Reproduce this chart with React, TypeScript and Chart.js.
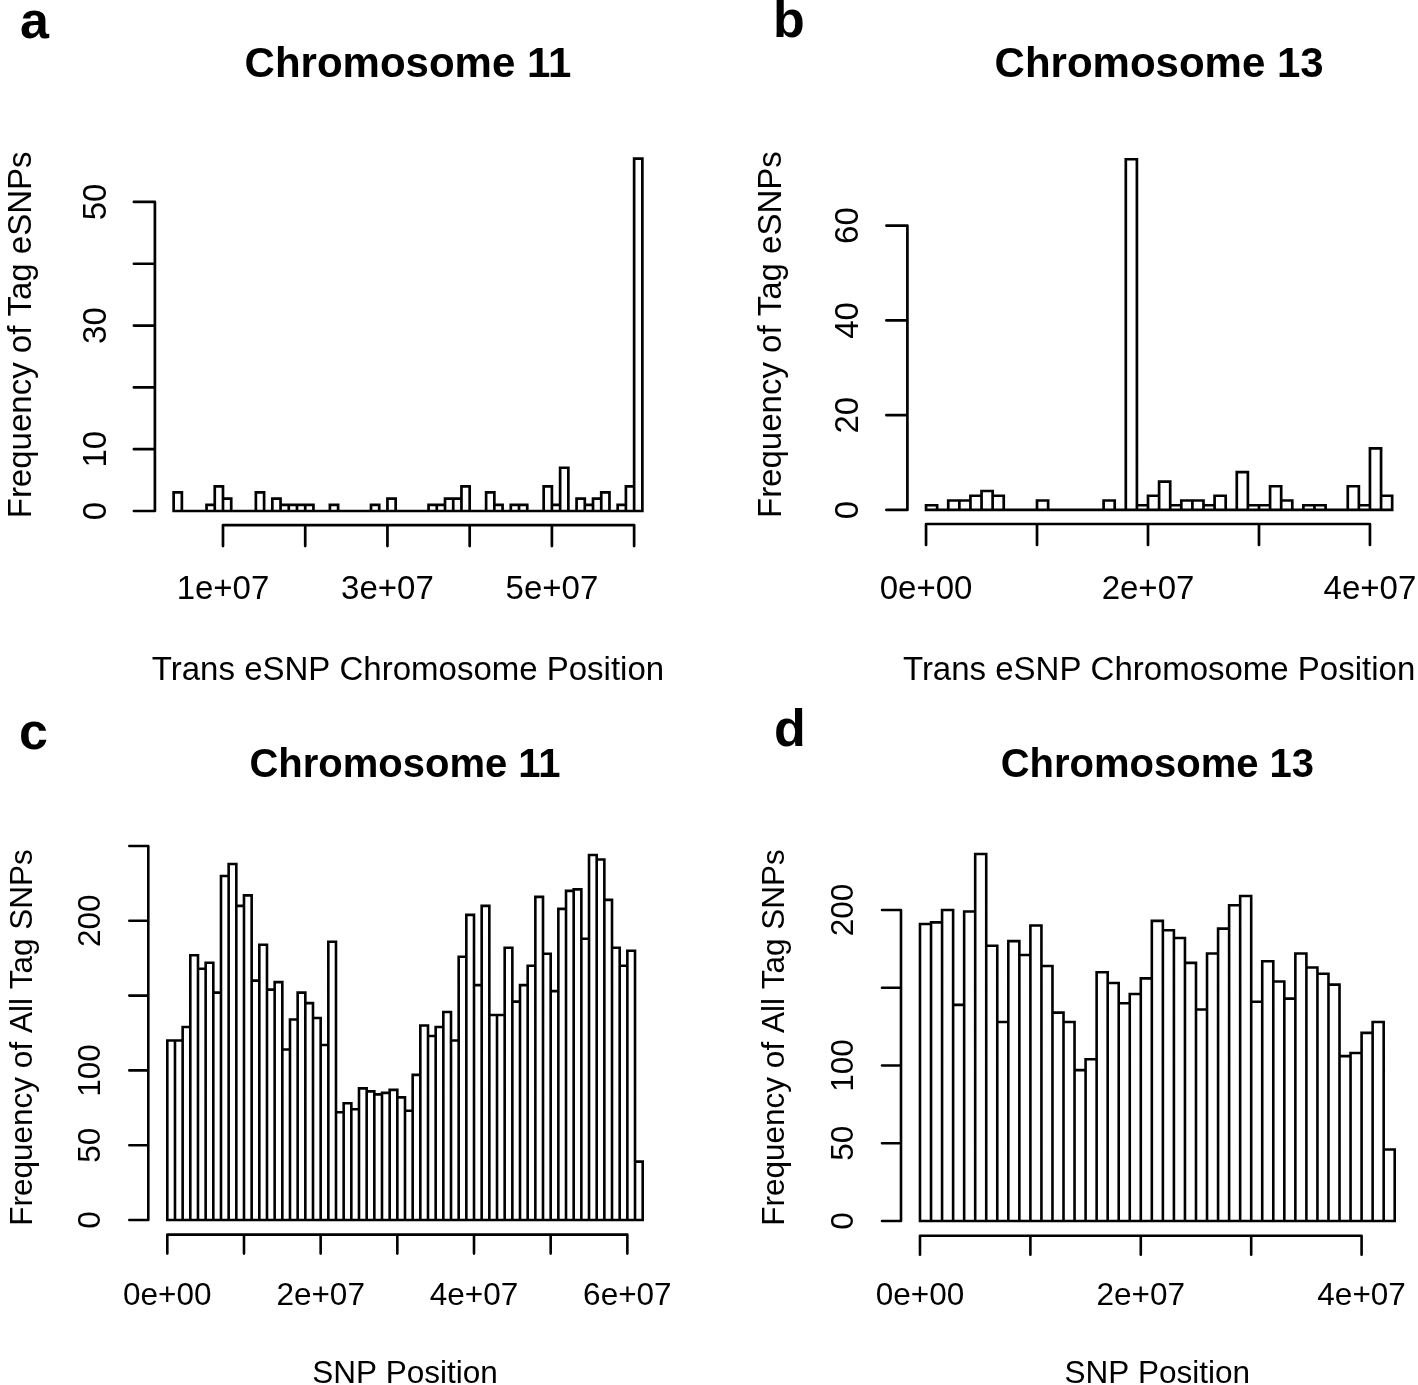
import React, { useEffect, useRef } from "react";
import { Chart, registerables } from "chart.js";

Chart.register(...registerables);

const FONT = '"Liberation Sans", Arial, Helvetica, sans-serif';

// ---------------- Data (histogram counts, 1e6 bp bins) ----------------
const binWidth = 1e6;

const chr11TransStart = 4e6;
const chr11TransCounts = [
  3, 0, 0, 0, 1, 4, 2, 0, 0, 0, 3, 0, 2, 1, 1, 1, 1, 0, 0, 1,
  0, 0, 0, 0, 1, 0, 2, 0, 0, 0, 0, 1, 1, 2, 2, 4, 0, 0, 3, 1,
  0, 1, 1, 0, 0, 4, 1, 7, 0, 2, 1, 2, 3, 0, 1, 4, 57,
];

const chr13TransStart = 0;
const chr13TransCounts = [
  1, 0, 2, 2, 3, 4, 3, 0, 0, 0, 2, 0, 0, 0, 0, 0, 2, 0, 74, 1,
  3, 6, 1, 2, 2, 1, 3, 0, 8, 1, 1, 5, 2, 0, 1, 1, 0, 0, 5, 1,
  13, 3,
];

const chr11AllStart = 0;
const chr11AllCounts = [
  120, 120, 129, 177, 168, 172, 152, 230, 238, 210,
  217, 160, 184, 154, 159, 114, 134, 152, 145, 135,
  117, 186, 72, 78, 74, 88, 86, 84, 85, 87,
  82, 73, 97, 130, 123, 129, 139, 120, 176, 204,
  157, 210, 137, 137, 182, 146, 157, 170, 216, 178,
  153, 208, 220, 221, 188, 244, 241, 214, 182, 170,
  180, 39,
];

const chr13AllStart = 0;
const chr13AllCounts = [
  191, 192, 200, 139, 199, 236, 177, 128, 180, 171,
  190, 164, 134, 128, 97, 104, 160, 153, 140, 146,
  156, 193, 187, 182, 166, 136, 172, 188, 203, 209,
  141, 167, 154, 143, 172, 163, 159, 152, 106, 108,
  121, 128, 46,
];

// ---------------- Text ----------------
const panelLetters = ["a", "b", "c", "d"];
const panelTitles = ["Chromosome 11", "Chromosome 13", "Chromosome 11", "Chromosome 13"];
const yAxisTitles = [
  "Frequency of Tag eSNPs",
  "Frequency of Tag eSNPs",
  "Frequency of All Tag SNPs",
  "Frequency of All Tag SNPs",
];
const xAxisTitles = [
  "Trans eSNP Chromosome Position",
  "Trans eSNP Chromosome Position",
  "SNP Position",
  "SNP Position",
];

// ---------------- Ticks ----------------
const xTicksA = [1e7, 2e7, 3e7, 4e7, 5e7, 6e7];
const xTickLabelsA = ["1e+07", "", "3e+07", "", "5e+07", ""];
const yTicksA = [0, 10, 20, 30, 40, 50];
const yTickLabelsA = ["0", "10", "", "30", "", "50"];

const xTicksB = [0, 1e7, 2e7, 3e7, 4e7];
const xTickLabelsB = ["0e+00", "", "2e+07", "", "4e+07"];
const yTicksB = [0, 20, 40, 60];
const yTickLabelsB = ["0", "20", "40", "60"];

const xTicksC = [0, 1e7, 2e7, 3e7, 4e7, 5e7, 6e7];
const xTickLabelsC = ["0e+00", "", "2e+07", "", "4e+07", "", "6e+07"];
const yTicksC = [0, 50, 100, 150, 200, 250];
const yTickLabelsC = ["0", "50", "100", "", "200", ""];

const xTicksD = [0, 1e7, 2e7, 3e7, 4e7];
const xTickLabelsD = ["0e+00", "", "2e+07", "", "4e+07"];
const yTicksD = [0, 50, 100, 150, 200];
const yTickLabelsD = ["0", "50", "100", "", "200"];

// ---------------- Layout (absolute page pixels) ----------------
type Box = { left: number; top: number; width: number; height: number };
type Layout = {
  canvas: Box;
  plot: { left: number; top: number; right: number; bottom: number };
  letterX: number;
  letterY: number;
  titleY: number;
  xTickLabelY: number;
  xTitleY: number;
  yTickLabelX: number;
  yTitleX: number;
  font: number;
  titleFont: number;
  letterFont: number;
  lw: number;
  tickLen: number;
};

const layoutA: Layout = {
  canvas: { left: 0, top: 0, width: 709, height: 692 },
  plot: { left: 154.9, top: 144.6, right: 661.1, bottom: 525.1 },
  letterX: 20, letterY: 38, titleY: 77, xTickLabelY: 599, xTitleY: 680,
  yTickLabelX: 106, yTitleX: 31, font: 33, titleFont: 42, letterFont: 52, lw: 2.7, tickLen: 21,
};
const layoutB: Layout = {
  canvas: { left: 709, top: 0, width: 709, height: 692 },
  plot: { left: 907.4, top: 145.2, right: 1410.8, bottom: 524.0 },
  letterX: 773, letterY: 37, titleY: 77, xTickLabelY: 599, xTitleY: 680,
  yTickLabelX: 858, yTitleX: 781, font: 33, titleFont: 42, letterFont: 52, lw: 2.7, tickLen: 21,
};
const layoutC: Layout = {
  canvas: { left: 0, top: 692, width: 709, height: 693 },
  plot: { left: 148.3, top: 840.4, right: 661.7, bottom: 1234.6 },
  letterX: 19, letterY: 749, titleY: 777, xTickLabelY: 1305, xTitleY: 1383,
  yTickLabelX: 100, yTitleX: 31.5, font: 31.5, titleFont: 40, letterFont: 52, lw: 2.6, tickLen: 19,
};
const layoutD: Layout = {
  canvas: { left: 709, top: 692, width: 709, height: 693 },
  plot: { left: 901, top: 839.3, right: 1413.7, bottom: 1235.7 },
  letterX: 774, letterY: 746, titleY: 777, xTickLabelY: 1305, xTitleY: 1383,
  yTickLabelX: 853, yTitleX: 784, font: 31.5, titleFont: 40, letterFont: 52, lw: 2.6, tickLen: 19,
};

type PanelSpec = {
  idx: number;
  start: number;
  counts: number[];
  xTicks: number[];
  xTickLabels: string[];
  yTicks: number[];
  yTickLabels: string[];
  layout: Layout;
};

const panels: PanelSpec[] = [
  { idx: 0, start: chr11TransStart, counts: chr11TransCounts, xTicks: xTicksA, xTickLabels: xTickLabelsA, yTicks: yTicksA, yTickLabels: yTickLabelsA, layout: layoutA },
  { idx: 1, start: chr13TransStart, counts: chr13TransCounts, xTicks: xTicksB, xTickLabels: xTickLabelsB, yTicks: yTicksB, yTickLabels: yTickLabelsB, layout: layoutB },
  { idx: 2, start: chr11AllStart, counts: chr11AllCounts, xTicks: xTicksC, xTickLabels: xTickLabelsC, yTicks: yTicksC, yTickLabels: yTickLabelsC, layout: layoutC },
  { idx: 3, start: chr13AllStart, counts: chr13AllCounts, xTicks: xTicksD, xTickLabels: xTickLabelsD, yTicks: yTicksD, yTickLabels: yTickLabelsD, layout: layoutD },
];

// R-style histogram outlines and axes
const rStylePlugin = {
  id: "rStyle",
  afterDatasetsDraw(chart: any, _args: any, opts: any) {
    const spec: PanelSpec = opts.spec;
    const L = spec.layout;
    const ox = L.canvas.left;
    const oy = L.canvas.top;
    const ctx: CanvasRenderingContext2D = chart.ctx;
    const xs = chart.scales.x;
    const ys = chart.scales.y;
    const area = chart.chartArea;

    ctx.save();
    ctx.strokeStyle = "#000";
    ctx.fillStyle = "#000";
    ctx.lineWidth = L.lw;
    ctx.lineJoin = "miter";
    ctx.lineCap = "square";

    // bar outlines; zero-height bins become baseline segments
    const meta = chart.getDatasetMeta(0);
    ctx.beginPath();
    meta.data.forEach((bar: any) => {
      const p = bar.getProps(["x", "y", "base", "width"], true);
      const l = p.x - p.width / 2;
      const r = p.x + p.width / 2;
      const top = Math.min(p.y, p.base);
      const bottom = Math.max(p.y, p.base);
      if (bottom - top < 0.5) {
        ctx.moveTo(l, bottom);
        ctx.lineTo(r, bottom);
      } else {
        ctx.moveTo(l, bottom);
        ctx.lineTo(l, top);
        ctx.lineTo(r, top);
        ctx.lineTo(r, bottom);
        ctx.lineTo(l, bottom);
      }
    });
    ctx.stroke();

    ctx.lineCap = "round";
    // x axis
    const xb = area.bottom;
    const x0 = xs.getPixelForValue(spec.xTicks[0]);
    const x1 = xs.getPixelForValue(spec.xTicks[spec.xTicks.length - 1]);
    ctx.beginPath();
    ctx.moveTo(x0, xb);
    ctx.lineTo(x1, xb);
    spec.xTicks.forEach((v) => {
      const px = xs.getPixelForValue(v);
      ctx.moveTo(px, xb);
      ctx.lineTo(px, xb + L.tickLen);
    });
    ctx.stroke();

    // y axis
    const yl = area.left;
    const y0 = ys.getPixelForValue(spec.yTicks[0]);
    const y1 = ys.getPixelForValue(spec.yTicks[spec.yTicks.length - 1]);
    ctx.beginPath();
    ctx.moveTo(yl, y0);
    ctx.lineTo(yl, y1);
    spec.yTicks.forEach((v) => {
      const py = ys.getPixelForValue(v);
      ctx.moveTo(yl, py);
      ctx.lineTo(yl - L.tickLen, py);
    });
    ctx.stroke();

    // x tick labels
    ctx.font = `${L.font}px ${FONT}`;
    ctx.textAlign = "center";
    ctx.textBaseline = "alphabetic";
    spec.xTicks.forEach((v, i) => {
      const lab = spec.xTickLabels[i];
      if (lab) ctx.fillText(lab, xs.getPixelForValue(v), L.xTickLabelY - oy);
    });

    // y tick labels (rotated, parallel to axis)
    spec.yTicks.forEach((v, i) => {
      const lab = spec.yTickLabels[i];
      if (!lab) return;
      ctx.save();
      ctx.translate(L.yTickLabelX - ox, ys.getPixelForValue(v));
      ctx.rotate(-Math.PI / 2);
      ctx.fillText(lab, 0, 0);
      ctx.restore();
    });

    const cx = (area.left + area.right) / 2;
    const cy = (area.top + area.bottom) / 2;

    // x axis title
    ctx.fillText(xAxisTitles[spec.idx], cx, L.xTitleY - oy);

    // y axis title
    ctx.save();
    ctx.translate(L.yTitleX - ox, cy);
    ctx.rotate(-Math.PI / 2);
    ctx.fillText(yAxisTitles[spec.idx], 0, 0);
    ctx.restore();

    // main title
    ctx.font = `bold ${L.titleFont}px ${FONT}`;
    ctx.fillText(panelTitles[spec.idx], cx, L.titleY - oy);

    // panel letter
    ctx.font = `bold ${L.letterFont}px ${FONT}`;
    ctx.textAlign = "left";
    ctx.fillText(panelLetters[spec.idx], L.letterX - ox, L.letterY - oy);

    ctx.restore();
  },
};

function HistPanel({ spec }: { spec: PanelSpec }) {
  const ref = useRef<HTMLCanvasElement | null>(null);

  useEffect(() => {
    const canvas = ref.current;
    if (!canvas) return;
    const L = spec.layout;
    const n = spec.counts.length;
    const xStart = spec.start;
    const xEnd = spec.start + n * binWidth;
    const span = xEnd - xStart;
    const yMax = Math.max(...spec.counts);
    const points = spec.counts.map((c, i) => ({ x: xStart + (i + 0.5) * binWidth, y: c }));

    const chart = new Chart(canvas, {
      type: "bar",
      data: {
        datasets: [
          {
            data: points as any,
            backgroundColor: "#ffffff",
            borderWidth: 0,
            barPercentage: 1,
            categoryPercentage: 1,
          },
        ],
      },
      options: {
        responsive: false,
        animation: false,
        devicePixelRatio: 1,
        events: [],
        layout: {
          padding: {
            left: L.plot.left - L.canvas.left,
            top: L.plot.top - L.canvas.top,
            right: L.canvas.left + L.canvas.width - L.plot.right,
            bottom: L.canvas.top + L.canvas.height - L.plot.bottom,
          },
        },
        plugins: {
          legend: { display: false },
          title: { display: false },
          tooltip: { enabled: false },
          rStyle: { spec },
        } as any,
        scales: {
          x: {
            type: "linear",
            display: false,
            offset: false,
            grid: { offset: false },
            bounds: "data",
            min: xStart - 0.04 * span,
            max: xEnd + 0.04 * span,
            afterBuildTicks: (scale: any) => {
              scale.ticks = spec.xTicks.map((v) => ({ value: v }));
            },
          },
          y: {
            type: "linear",
            display: false,
            offset: false,
            bounds: "data",
            min: -0.04 * yMax,
            max: 1.04 * yMax,
            afterBuildTicks: (scale: any) => {
              scale.ticks = spec.yTicks.map((v) => ({ value: v }));
            },
          },
        },
      } as any,
      plugins: [rStylePlugin],
    });
    return () => chart.destroy();
  }, [spec]);

  const L = spec.layout;
  return (
    <canvas
      ref={ref}
      width={L.canvas.width}
      height={L.canvas.height}
      style={{
        position: "absolute",
        left: L.canvas.left,
        top: L.canvas.top,
        width: L.canvas.width,
        height: L.canvas.height,
      }}
    />
  );
}

export default function App() {
  return (
    <div
      style={{
        position: "absolute",
        left: 0,
        top: 0,
        width: 1418,
        height: 1385,
        background: "#ffffff",
        overflow: "hidden",
      }}
    >
      {panels.map((p) => (
        <HistPanel key={p.idx} spec={p} />
      ))}
    </div>
  );
}
